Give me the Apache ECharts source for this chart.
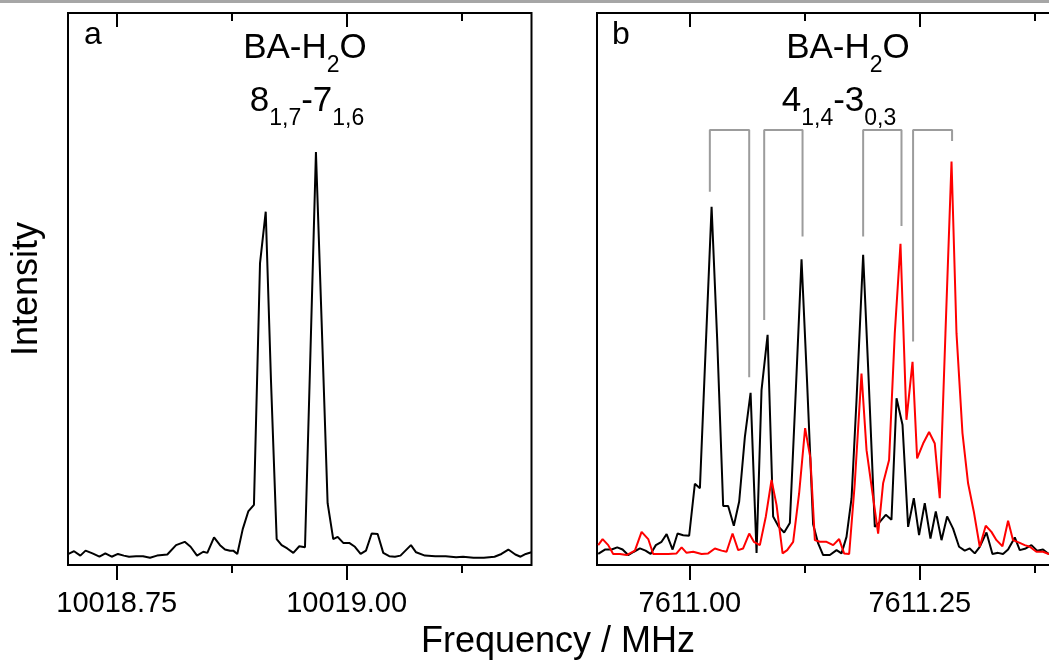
<!DOCTYPE html>
<html>
<head>
<meta charset="utf-8">
<script src="https://cdn.jsdelivr.net/npm/echarts@6/dist/echarts.min.js"></script>
<style>
html,body{margin:0;padding:0;background:#fff;}
#chart{width:1049px;height:663px;}
</style>
</head>
<body>
<div id="chart"></div>
<script>
// ---------- Panel a: BA-H2O 8(1,7)-7(1,6) ----------
const aFreq = [10018.6976,10018.7036,10018.7104,10018.7161,10018.7236,10018.7312,10018.7376,10018.7445,10018.7513,10018.7577,
  10018.7634,10018.7710,10018.7786,10018.7862,10018.7938,10018.8050,10018.8145,10018.8239,10018.8303,10018.8373,
  10018.8441,10018.8485,10018.8558,10018.8623,10018.8677,10018.8732,10018.8767,10018.8811,10018.8870,10018.8930,
  10018.8992,10018.9058,10018.9120,10018.9177,10018.9239,10018.9293,10018.9354,10018.9420,10018.9485,10018.9547,
  10018.9607,10018.9666,10018.9728,10018.9793,10018.9854,10018.9902,10018.9963,10019.0028,10019.0090,10019.0152,
  10019.0210,10019.0272,10019.0337,10019.0398,10019.0463,10019.0525,10019.0585,10019.0699,10019.0755,10019.0851,
  10019.0963,10019.1077,10019.1190,10019.1266,10019.1379,10019.1492,10019.1608,10019.1683,10019.1758,10019.1834,
  10019.1891,10019.1948,10019.2009];
const aInt = [2.0,2.5,1.7,2.6,2.1,1.5,2.1,1.5,2.0,1.7,
  1.5,1.6,1.6,1.3,1.7,1.9,3.6,4.2,3.3,1.7,
  2.4,2.2,5.0,3.6,2.8,2.6,2.6,2.0,6.5,9.7,
  10.9,54.7,64.0,33.5,4.7,3.6,3.0,2.2,3.4,3.2,
  38.9,74.8,44.0,11.2,4.7,5.1,4.0,4.0,3.3,2.0,
  2.6,5.7,5.6,2.2,1.6,1.5,1.7,3.6,2.3,1.7,
  1.6,1.6,1.4,1.5,1.3,1.3,1.5,2.0,2.8,1.9,
  1.5,2.0,2.3];

// ---------- Panel b: BA-H2O 4(1,4)-3(0,3) ----------
const bBlackFreq = [7610.9003,7610.9076,7610.9149,7610.9210,7610.9268,7610.9329,7610.9391,7610.9457,7610.9518,7610.9573,
  7610.9630,7610.9692,7610.9747,7610.9812,7610.9866,7610.9927,7610.9992,7611.0054,7611.0109,7611.0174,
  7611.0236,7611.0297,7611.0362,7611.0416,7611.0478,7611.0536,7611.0598,7611.0660,7611.0725,7611.0779,
  7611.0845,7611.0905,7611.0967,7611.1025,7611.1087,7611.1152,7611.1214,7611.1275,7611.1340,7611.1395,
  7611.1449,7611.1522,7611.1595,7611.1649,7611.1703,7611.1758,7611.1812,7611.1884,7611.1938,7611.2011,
  7611.2065,7611.2130,7611.2192,7611.2247,7611.2312,7611.2373,7611.2435,7611.2492,7611.2554,7611.2616,
  7611.2674,7611.2736,7611.2797,7611.2862,7611.2927,7611.2989,7611.3043,7611.3098,7611.3152,7611.3225,
  7611.3290,7611.3351,7611.3405,7611.3460,7611.3533,7611.3587,7611.3652,7611.3714,7611.3775,7611.3840,
  7611.3902,7611.3967];
const bBlackInt = [2.0,2.8,2.8,3.2,2.8,1.8,2.4,3.0,2.6,2.0,
  3.6,4.2,5.6,2.8,5.7,5.4,5.3,14.7,13.9,40.2,
  64.9,40.8,10.7,10.7,7.1,11.5,23.2,31.2,2.2,31.7,
  41.7,8.8,6.9,5.9,7.6,31.7,55.4,32.9,7.4,3.9,
  1.8,1.8,2.7,2.1,5.1,12.1,29.9,56.2,35.9,6.9,
  7.8,9.1,8.2,30.2,25.4,6.9,12.1,5.4,11.2,4.8,
  9.7,4.5,8.8,6.6,3.3,2.6,3.0,2.1,3.3,5.9,
  2.0,2.2,2.0,2.8,5.0,2.7,3.0,3.6,2.6,2.8,
  2.0,2.4];
const bRedFreq = [7610.9003,7610.9051,7610.9112,7610.9166,7610.9239,7610.9312,7610.9402,7610.9475,7610.9547,7610.9601,
  7610.9692,7610.9764,7610.9855,7610.9910,7610.9964,7611.0036,7611.0127,7611.0199,7611.0272,7611.0345,
  7611.0399,7611.0464,7611.0525,7611.0579,7611.0645,7611.0696,7611.0761,7611.0826,7611.0888,7611.0942,
  7611.1008,7611.1058,7611.1123,7611.1188,7611.1253,7611.1310,7611.1359,7611.1413,7611.1486,7611.1558,
  7611.1623,7611.1677,7611.1732,7611.1793,7611.1866,7611.1921,7611.1986,7611.2047,7611.2101,7611.2166,
  7611.2228,7611.2290,7611.2355,7611.2421,7611.2471,7611.2536,7611.2601,7611.2663,7611.2717,7611.2779,
  7611.2845,7611.2899,7611.2964,7611.3025,7611.3087,7611.3152,7611.3217,7611.3279,7611.3334,7611.3399,
  7611.3460,7611.3514,7611.3587,7611.3641,7611.3696,7611.3768,7611.3840,7611.3902,7611.3967];
const bRedInt = [3.6,4.7,3.6,2.0,2.0,1.8,2.6,6.0,4.7,2.0,
  2.0,2.0,2.1,3.2,2.2,2.4,2.0,2.1,3.0,2.6,
  2.4,5.7,2.7,3.0,5.7,4.2,3.6,8.8,15.4,10.9,
  2.1,2.7,4.2,13.0,24.8,19.4,4.5,4.2,4.2,3.6,
  4.7,2.1,2.0,14.8,34.7,20.8,13.0,5.7,14.8,19.0,
  42.0,58.2,26.3,36.8,19.3,22.0,24.1,22.0,12.1,42.0,
  73.1,42.0,23.9,14.8,9.7,3.3,7.1,6.0,4.5,3.4,
  8.0,4.5,4.0,3.6,3.3,2.4,2.4,2.0,2.2];

// Assignment brackets (frequency, intensity) in panel b
const bracket1 = [[7611.0217,67.6],[7611.0217,78.8],[7611.0645,78.8],[7611.0645,34.0]];
const bracket2 = [[7611.0808,44.4],[7611.0808,78.8],[7611.1225,78.8],[7611.1225,59.5]];
const bracket3 = [[7611.1884,59.5],[7611.1884,78.8],[7611.2301,78.8],[7611.2301,61.4]];
const bracket4 = [[7611.2427,40.5],[7611.2427,78.8],[7611.2851,78.8],[7611.2851,76.8]];

// Axis ranges and ticks
const aRange = [10018.697, 10019.201];
const bRange = [7610.899, 7611.403];
const aMajor = [10018.75, 10019.00];
const aMinor = [10018.875, 10019.125];
const bMajor = [7611.00, 7611.25];
const bMinor = [7611.125, 7611.375];
const yRange = [0, 100];

const FONT = "'Liberation Sans', Arial, Helvetica, sans-serif";

function zip(xs, ys){ return xs.map((x,i)=>[x, ys[i]]); }

function makeX(gridIndex, range, ticks, position, len, inside, labels){
  return {
    type:'value', gridIndex, min:range[0], max:range[1], position,
    axisLine:{show:false},
    splitLine:{show:false},
    axisTick:{show:true, inside, length:len, customValues:ticks, lineStyle:{color:'#000', width:2}},
    axisLabel: labels ? {show:true, customValues:ticks, formatter:v=>Number(v).toFixed(2),
      fontFamily:FONT, fontSize:29, color:'#000', margin:24} : {show:false}
  };
}

const xAxes = [
  makeX(0, aRange, aMajor, 'bottom', 15, false, true),
  makeX(0, aRange, aMinor, 'bottom', 8, false, false),
  makeX(0, aRange, aMajor, 'top', 14, true, false),
  makeX(0, aRange, aMinor, 'top', 8, true, false),
  makeX(1, bRange, bMajor, 'bottom', 15, false, true),
  makeX(1, bRange, bMinor, 'bottom', 8, false, false),
  makeX(1, bRange, bMajor, 'top', 14, true, false),
  makeX(1, bRange, bMinor, 'top', 8, true, false)
];
const yAxes = [0,1].map(g=>({type:'value', gridIndex:g, min:yRange[0], max:yRange[1], show:false, splitLine:{show:false}}));

const lineBase = {type:'line', showSymbol:false, symbol:'none', animation:false, clip:true, silent:true};
const bracketStyle = {color:'#9c9c9c', width:2};

const series = [
  Object.assign({}, lineBase, {xAxisIndex:0, yAxisIndex:0, data:zip(aFreq,aInt), lineStyle:{color:'#000', width:2}}),
  Object.assign({}, lineBase, {xAxisIndex:4, yAxisIndex:1, data:zip(bBlackFreq,bBlackInt), lineStyle:{color:'#000', width:2}}),
  Object.assign({}, lineBase, {xAxisIndex:4, yAxisIndex:1, data:zip(bRedFreq,bRedInt), lineStyle:{color:'#ff0000', width:2}}),
  ...[bracket1,bracket2,bracket3,bracket4].map(b=>Object.assign({}, lineBase, {xAxisIndex:4, yAxisIndex:1, data:b, lineStyle:bracketStyle}))
];

const rich = {
  n:{fontFamily:FONT, fontSize:35, lineHeight:60, color:'#000'},
  s:{fontFamily:FONT, fontSize:23, lineHeight:24, padding:[36,0,0,0], color:'#000'}
};
function titleText(x, y, text){
  return {type:'text', x, y, silent:true, style:{text, rich, align:'center', verticalAlign:'top', fill:'#000'}};
}

const graphic = [
  {type:'rect', shape:{x:0,y:0,width:1049,height:3}, style:{fill:'#a6a6a6'}, silent:true},
  {type:'text', x:84, y:35, style:{text:'a', fontFamily:FONT, fontSize:32, fill:'#000', align:'left', verticalAlign:'middle'}},
  {type:'text', x:612, y:35, style:{text:'b', fontFamily:FONT, fontSize:32, fill:'#000', align:'left', verticalAlign:'middle'}},
  titleText(305, 18, '{n|BA-H}{s|2}{n|O}'),
  titleText(307, 71, '{n|8}{s|1,7}{n|-7}{s|1,6}'),
  titleText(848, 18, '{n|BA-H}{s|2}{n|O}'),
  titleText(839, 71, '{n|4}{s|1,4}{n|-3}{s|0,3}'),
  {type:'text', x:27.5, y:289, rotation:Math.PI/2, style:{text:'Intensity', fontFamily:FONT, fontSize:36, fill:'#000', align:'center', verticalAlign:'middle'}},
  {type:'text', x:558, y:642.5, style:{text:'Frequency / MHz', fontFamily:FONT, fontSize:36, fill:'#000', align:'center', verticalAlign:'middle'}}
];

const chart = echarts.init(document.getElementById('chart'), null, {renderer:'canvas'});
chart.setOption({
  animation:false,
  backgroundColor:'#fff',
  grid:[
    {left:68, top:13, width:463.5, height:552, show:true, borderColor:'#000', borderWidth:2, backgroundColor:'transparent', containLabel:false, outerBoundsMode:'none'},
    {left:597, top:13, width:463.5, height:552, show:true, borderColor:'#000', borderWidth:2, backgroundColor:'transparent', containLabel:false, outerBoundsMode:'none'}
  ],
  xAxis:xAxes,
  yAxis:yAxes,
  series,
  graphic
});
</script>
</body>
</html>
